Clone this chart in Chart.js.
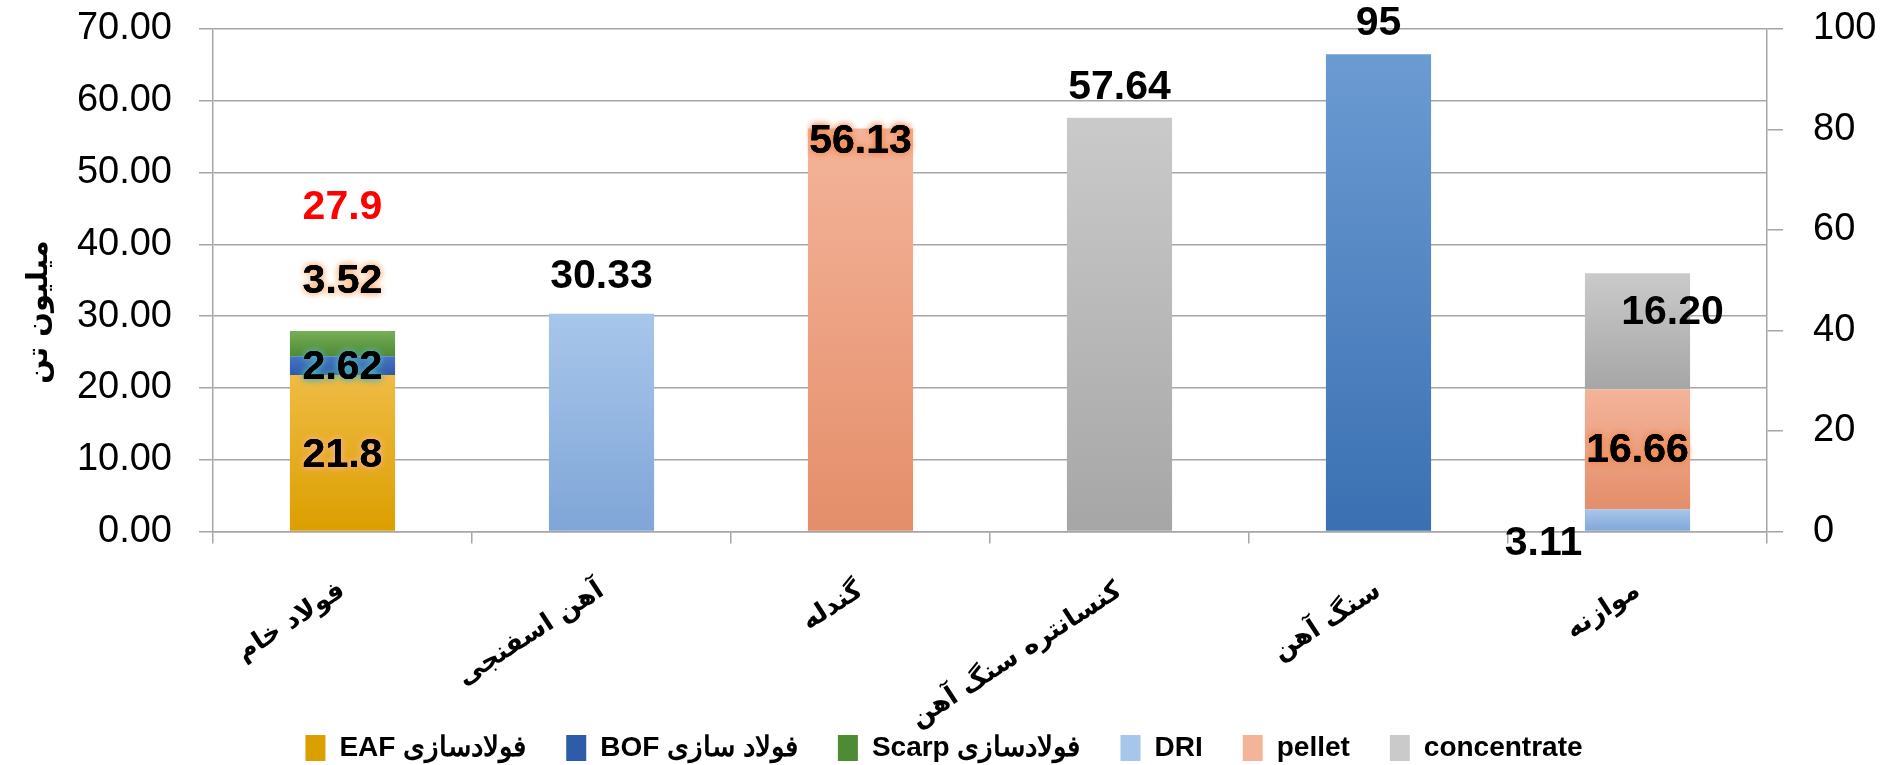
<!DOCTYPE html>
<html>
<head>
<meta charset="utf-8">
<script src="https://cdn.jsdelivr.net/npm/chart.js@4.4.1/dist/chart.umd.min.js"></script>
<style>
html,body{margin:0;padding:0;background:#fff}
</style>
</head>
<body>
<canvas id="chart" width="1888" height="765"></canvas>
<script>
// categories and series (million tonnes)
const categories = ["فولاد خام", "آهن اسفنجی", "گندله", "کنسانتره سنگ آهن", "سنگ آهن", "موازنه"]
const eaf   = [21.8, null, null, null, null, null]
const bof   = [2.62, null, null, null, null, null]
const scarp = [3.52, null, null, null, null, null]
const dri   = [null, 30.33, null, null, null, 3.11]
const pellet = [null, null, 56.13, null, null, 16.66]
const concentrate = [null, null, null, 57.64, null, 16.20]
const ironOre = [null, null, null, null, 95, null]   // right axis

const seriesNames = ["فولادسازی EAF", "فولاد سازی BOF", "فولادسازی Scarp", "DRI", "pellet", "concentrate"]
const leftTicks = [0, 10, 20, 30, 40, 50, 60, 70]
const rightTicks = [0, 20, 40, 60, 80, 100]
const yTitle = "میلیون تن"

const leftStack = [eaf, bof, scarp, dri, pellet, concentrate]

function baseOf(arr, i){
  if(arr === ironOre) return 0
  let s = 0
  for(const a of leftStack){ if(a === arr) break; s += a[i] || 0 }
  return s
}

function fill(arr, top, bottom, axis){
  return c => {
    const ch = c.chart
    const sc = ch.scales[axis]
    if(c.type !== "data" || !sc || arr[c.dataIndex] == null) return top
    const b = baseOf(arr, c.dataIndex)
    const y0 = sc.getPixelForValue(b + arr[c.dataIndex]), y1 = sc.getPixelForValue(b)
    if(!isFinite(y0) || !isFinite(y1) || y0 === y1) return top
    const g = ch.ctx.createLinearGradient(0, y0, 0, y1)
    g.addColorStop(0, top)
    g.addColorStop(1, bottom)
    return g
  }
}

function ds(label, arr, top, bottom, axis){
  return {label, data: arr, yAxisID: axis, backgroundColor: fill(arr, top, bottom, axis),
    borderWidth: 0, barPercentage: 0.406, categoryPercentage: 1}
}

// value labels: text from the data, placement offsets in px
const labels = [
  {arr: eaf, i: 0, text: eaf[0].toString(), at: "mid", dy: 2, glow: "#f7b27a"},
  {arr: bof, i: 0, text: bof[0].toFixed(2), at: "mid", dy: 2, glow: "#4fb0b8"},
  {arr: scarp, i: 0, text: scarp[0].toFixed(2), at: "top", dy: -49, glow: "#f7b27a"},
  {arr: scarp, i: 0, text: (eaf[0] + bof[0] + scarp[0]).toFixed(1), at: "top", dy: -123, color: "#ff0000"},
  {arr: dri, i: 1, text: dri[1].toFixed(2), at: "top", dy: -37},
  {arr: pellet, i: 2, text: pellet[2].toFixed(2), at: "top", dy: 13, glow: "#f08a50"},
  {arr: concentrate, i: 3, text: concentrate[3].toFixed(2), at: "top", dy: -30},
  {arr: ironOre, i: 4, text: ironOre[4].toString(), at: "top", dy: -30, axis: "y1"},
  {arr: concentrate, i: 5, text: concentrate[5].toFixed(2), at: "mid", dy: -19, dx: 35},
  {arr: pellet, i: 5, text: pellet[5].toFixed(2), at: "mid", dy: 1, glow: "#f08a50"},
  {arr: dri, i: 5, text: dri[5].toFixed(2), at: "base", dy: 12, dx: -94}
]

const valueLabels = {
  id: "valueLabels",
  afterDatasetsDraw(chart){
    const ctx = chart.ctx
    const xs = chart.scales.x
    ctx.save()
    ctx.font = "bold 41px 'Liberation Sans'"
    ctx.textAlign = "center"
    ctx.textBaseline = "middle"
    labels.forEach(l => {
      const sc = chart.scales[l.axis || "y"]
      const b = baseOf(l.arr, l.i), v = l.arr[l.i]
      const val = l.at == "top" ? b + v : l.at == "mid" ? b + v / 2 : b
      const x = xs.getPixelForValue(l.i) + (l.dx || 0)
      const y = sc.getPixelForValue(val) + (l.dy || 0)
      if(l.glow){
        ctx.shadowColor = l.glow
        ctx.shadowBlur = 7
        ctx.fillStyle = "#000"
        ctx.fillText(l.text, x, y)
        ctx.fillText(l.text, x, y)
        ctx.shadowBlur = 0
      }
      ctx.fillStyle = l.color || "#000"
      ctx.fillText(l.text, x, y)
    })
    ctx.restore()
  }
}

const axisTitle = {
  id: "axisTitle",
  afterDraw(chart){
    const ctx = chart.ctx
    ctx.save()
    ctx.translate(39, 312)
    ctx.rotate(-Math.PI / 2)
    ctx.font = "bold 29px 'DejaVu Sans'"
    ctx.textAlign = "center"
    ctx.textBaseline = "middle"
    ctx.fillStyle = "#000"
    ctx.fillText(yTitle, 0, 0)
    ctx.restore()
  }
}

// push the legend row a little lower
const legendShift = {
  id: "legendShift",
  beforeUpdate(chart){
    const lg = chart.legend
    if(!lg || lg._shifted) return
    const fit = lg.fit.bind(lg)
    lg.fit = function(){ fit(); this.height -= 7 }
    lg._shifted = true
  }
}

const noPad = s => { s.paddingTop = 0; s.paddingBottom = 0 }

const gridColor = "#a6a6a6"

new Chart(document.getElementById("chart"), {
  type: "bar",
  data: {
    labels: categories,
    datasets: [
      ds(seriesNames[0], eaf, "#efbb45", "#dc9f00", "y"),
      ds(seriesNames[1], bof, "#4874c4", "#2f5ca8", "y"),
      ds(seriesNames[2], scarp, "#78ae58", "#4f8a34", "y"),
      ds(seriesNames[3], dri, "#a8c6ea", "#7fa6d8", "y"),
      ds(seriesNames[4], pellet, "#f4b49a", "#e48e6a", "y"),
      ds(seriesNames[5], concentrate, "#cacaca", "#a6a6a6", "y"),
      ds("سنگ آهن", ironOre, "#6c9bd2", "#3a70b2", "y1")
    ]
  },
  options: {
    responsive: false,
    animation: false,
    devicePixelRatio: 1,
    layout: {padding: {top: 29, right: 0, left: 0, bottom: 0}},
    plugins: {
      tooltip: {enabled: false},
      legend: {
        position: "bottom",
        textDirection: "rtl",
        labels: {
          filter: item => item.datasetIndex < 6,
          color: "#000",
          font: {family: "'Liberation Sans Narrow', 'Liberation Sans'", size: 28, weight: "bold"},
          boxWidth: 20,
          boxHeight: 26,
          padding: 40
        }
      }
    },
    scales: {
      x: {
        stacked: true,
        afterFit: s => {
          s.height = 765 - 531.5 - s.chart.legend.height
          s._computeLabelArea = () => null   // long rotated labels run under the legend row
        },
        grid: {offset: true, drawOnChartArea: false, color: gridColor, lineWidth: 1.5, tickLength: 12},
        border: {color: gridColor, width: 1.5},
        ticks: {
          minRotation: 33, maxRotation: 33, padding: 32, color: "#000",
          font: {family: "'DejaVu Sans'", size: 26, weight: "bold"}
        }
      },
      y: {
        position: "left",
        stacked: true,
        min: 0, max: 70,
        afterFit: s => { s.width = 213; noPad(s) },
        afterBuildTicks: s => { s.ticks = leftTicks.map(v => ({value: v})) },
        grid: {color: gridColor, lineWidth: 1.5, tickLength: 14},
        border: {color: gridColor, width: 1.5},
        ticks: {
          padding: 27, color: "#000",
          font: {family: "'Liberation Sans'", size: 38},
          callback: v => v.toFixed(2)
        }
      },
      y1: {
        position: "right",
        stacked: true,
        min: 0, max: 100,
        afterFit: s => { s.width = 1888 - 1767; noPad(s) },
        afterBuildTicks: s => { s.ticks = rightTicks.map(v => ({value: v})) },
        grid: {drawOnChartArea: false, color: gridColor, lineWidth: 1.5, tickLength: 16},
        border: {color: gridColor, width: 1.5},
        ticks: {
          padding: 30, color: "#000",
          font: {family: "'Liberation Sans'", size: 38}
        }
      }
    }
  },
  plugins: [valueLabels, axisTitle, legendShift]
})
</script>
</body>
</html>
